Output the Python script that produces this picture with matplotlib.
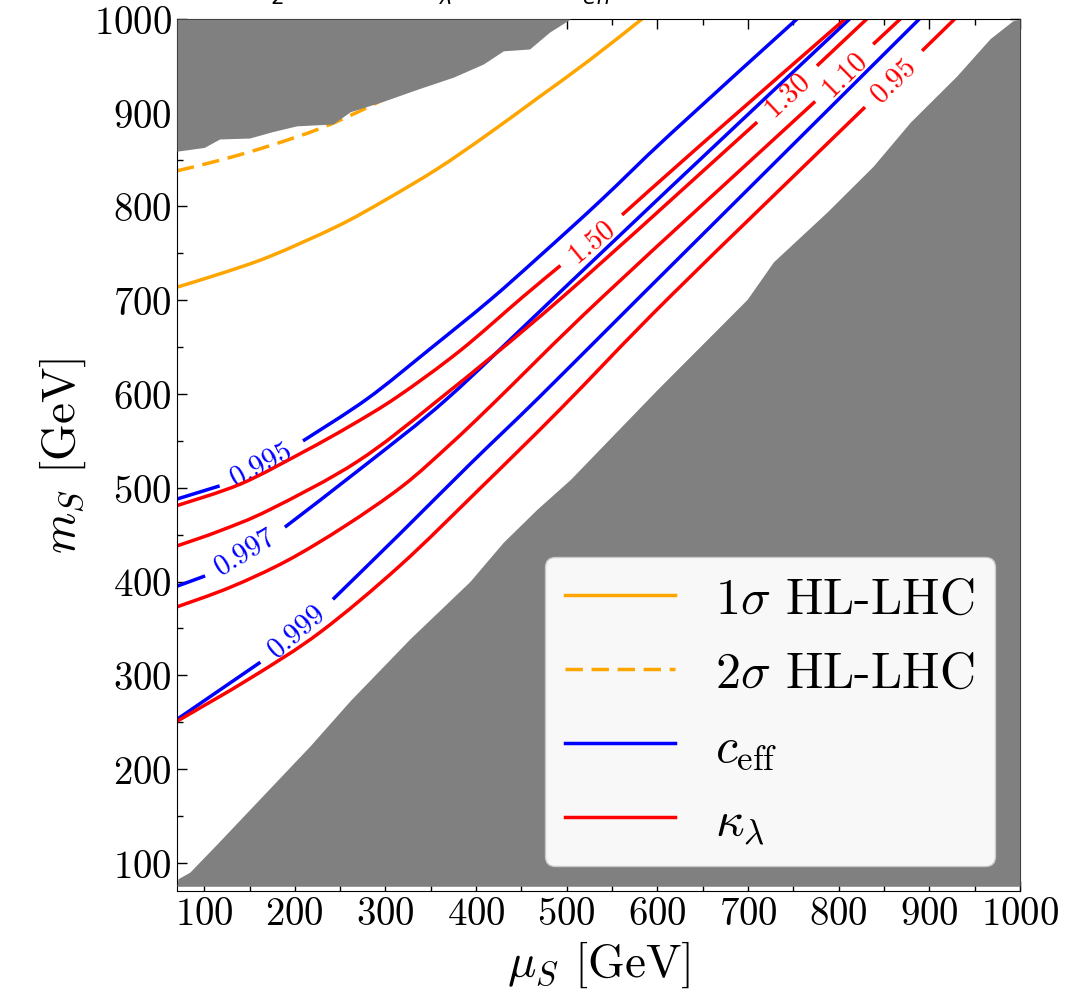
#!/usr/bin/env python3
import numpy as np
import matplotlib.pyplot as plt
from matplotlib.lines import Line2D
from matplotlib.patches import PathPatch
from matplotlib.path import Path
from matplotlib.ticker import MultipleLocator

plt.rcParams.update({
    'font.family': 'serif',
    'font.serif': ['cmr10'],
    'mathtext.fontset': 'cm',
    'axes.unicode_minus': False,
    'axes.formatter.use_mathtext': True,
})

# excluded regions (gray)
mu_excl_top = [70, 100, 117, 150, 176, 202, 242, 261, 297, 335, 375, 408, 430, 459, 481, 504, 520]
m_excl_top = [859, 863, 872, 873, 880, 886, 888, 901, 912, 925, 938, 952, 966, 968, 986, 1000, 1000]
mu_excl_bot = [70, 71, 84, 114, 217, 261, 327, 393, 430, 467, 504, 600, 699, 728, 787, 838, 879, 930, 967, 992, 1000]
m_excl_bot = [75, 83, 90, 120, 225, 273, 339, 400, 442, 477, 509, 605, 701, 741, 794, 843, 890, 939, 979, 998, 1000]

# HL-LHC contours
mu_1sig = [70, 120, 173, 247, 300, 357, 410, 467, 525, 583]
m_1sig = [714, 729, 747, 779, 807, 840, 875, 915, 956, 1000]
mu_2sig = [70, 120, 173, 230, 283, 340]
m_2sig = [838, 850, 865, 884, 907, 935]

# c_eff contours; the label sits on segment ceff_lab[k] -> ceff_lab[k]+1
ceff_levels = ['0.995', '0.997', '0.999']
ceff_mu = [
    [70, 117, 209, 280, 349, 415, 470, 537, 614, 754],
    [70, 101, 189, 280, 368, 482, 614, 812],
    [70, 162, 242, 316, 393, 470, 581, 889],
]
ceff_m = [
    [488, 502, 550, 595, 648, 700, 747, 806, 877, 1000],
    [395, 406, 458, 526, 595, 699, 820, 1000],
    [253, 314, 381, 451, 525, 597, 704, 1000],
]
ceff_lab = [1, 1, 1]

# kappa_lambda contours
kl_levels = ['1.50', '1.30', '1.10', '0.95']
kl_mu = [
    [70, 140, 209, 261, 313, 382, 452, 493, 561, 647, 807],
    [70, 117, 173, 269, 360, 496, 710, 776, 831],
    [70, 129, 191, 255, 319, 371, 419, 540, 774, 838, 868],
    [70, 151, 228, 316, 404, 493, 614, 829, 892, 928],
]
kl_m = [
    [481, 504, 538, 566, 597, 646, 704, 737, 791, 865, 1000],
    [438, 454, 477, 528, 595, 704, 890, 950, 1000],
    [373, 394, 422, 459, 502, 546, 590, 704, 912, 973, 1000],
    [251, 297, 346, 417, 499, 584, 704, 906, 966, 1000],
]
kl_lab = [7, 6, 8, 7]

fig = plt.figure(figsize=(10.88, 10.03), dpi=100)
ax = fig.add_axes([0.1627, 0.1107, 0.7748, 0.8694])
ax.set_xlim(70, 1000)
ax.set_ylim(70, 1000)

ax.fill_between(mu_excl_top, m_excl_top, 1000, color='gray', lw=0, zorder=3)
ax.fill_between(mu_excl_bot, 75, m_excl_bot, color='gray', lw=0, zorder=3)


def smooth(x, y, color, **kw):
    # smooth curve through the read-off points (Catmull-Rom as cubic Bezier)
    p = np.column_stack([x, y]).astype(float)
    q = np.vstack([p[0], p, p[-1]])
    verts, codes = [p[0]], [Path.MOVETO]
    for i in range(len(p) - 1):
        c1 = q[i + 1] + (q[i + 2] - q[i]) / 6
        c2 = q[i + 2] - (q[i + 3] - q[i + 1]) / 6
        verts += [c1, c2, q[i + 2]]
        codes += [Path.CURVE4] * 3
    ax.add_patch(PathPatch(Path(verts, codes), fill=False, edgecolor=color,
                           lw=2.5, zorder=2, capstyle='butt', **kw))


smooth(mu_1sig, m_1sig, 'orange')
smooth(mu_2sig, m_2sig, 'orange', linestyle=(0, (5, 2.5)))


def labelled(mu, m, i, text, color):
    # curve drawn with the segment i -> i+1 left open for its label
    smooth(mu[:i + 1], m[:i + 1], color)
    smooth(mu[i + 1:], m[i + 1:], color)
    p0 = ax.transData.transform((mu[i], m[i]))
    p1 = ax.transData.transform((mu[i + 1], m[i + 1]))
    ang = np.degrees(np.arctan2(p1[1] - p0[1], p1[0] - p0[0]))
    ax.text((mu[i] + mu[i + 1]) / 2, (m[i] + m[i + 1]) / 2, text, color=color,
            fontsize=21, rotation=ang, rotation_mode='anchor',
            ha='center', va='center', zorder=2)


for lev, mu, m, i in zip(ceff_levels, ceff_mu, ceff_m, ceff_lab):
    labelled(mu, m, i, lev, 'blue')
for lev, mu, m, i in zip(kl_levels, kl_mu, kl_m, kl_lab):
    labelled(mu, m, i, lev, 'red')

handles = [Line2D([], [], color='orange', lw=2.5),
           Line2D([], [], color='orange', lw=2.5, dashes=(5, 2.5)),
           Line2D([], [], color='blue', lw=2.5),
           Line2D([], [], color='red', lw=2.5)]
labels = [r'$1\sigma$ HL-LHC', r'$2\sigma$ HL-LHC', r'$c_{\rm eff}$', r'$\kappa_\lambda$']
leg = ax.legend(handles, labels, loc='lower right', fontsize=36, framealpha=0.95,
                handlelength=2.2, labelspacing=0.56, handletextpad=0.8)
leg.set_zorder(5)

ax.xaxis.set_major_locator(MultipleLocator(100))
ax.yaxis.set_major_locator(MultipleLocator(100))
ax.xaxis.set_minor_locator(MultipleLocator(50))
ax.yaxis.set_minor_locator(MultipleLocator(50))
ax.tick_params(which='both', direction='in', top=True, right=True, labelsize=28)
ax.tick_params(which='major', length=7, width=1)
ax.tick_params(which='minor', length=4, width=1)
ax.set_xlabel(r'$\mu_S$ [GeV]', fontsize=34, labelpad=5)
ax.set_ylabel(r'$m_S$ [GeV]', fontsize=34)

# title, mostly above the top edge of the figure as in the original
for x, s in [(251, r'$\lambda_2$'), (422, r'$\kappa_\lambda$'), (566, r'$c_{eff}$')]:
    fig.text(x / 1088, 1.0, s, fontsize=22, family='DejaVu Sans',
             math_fontfamily='dejavusans', va='baseline')

fig.savefig('out.png', dpi=100)
